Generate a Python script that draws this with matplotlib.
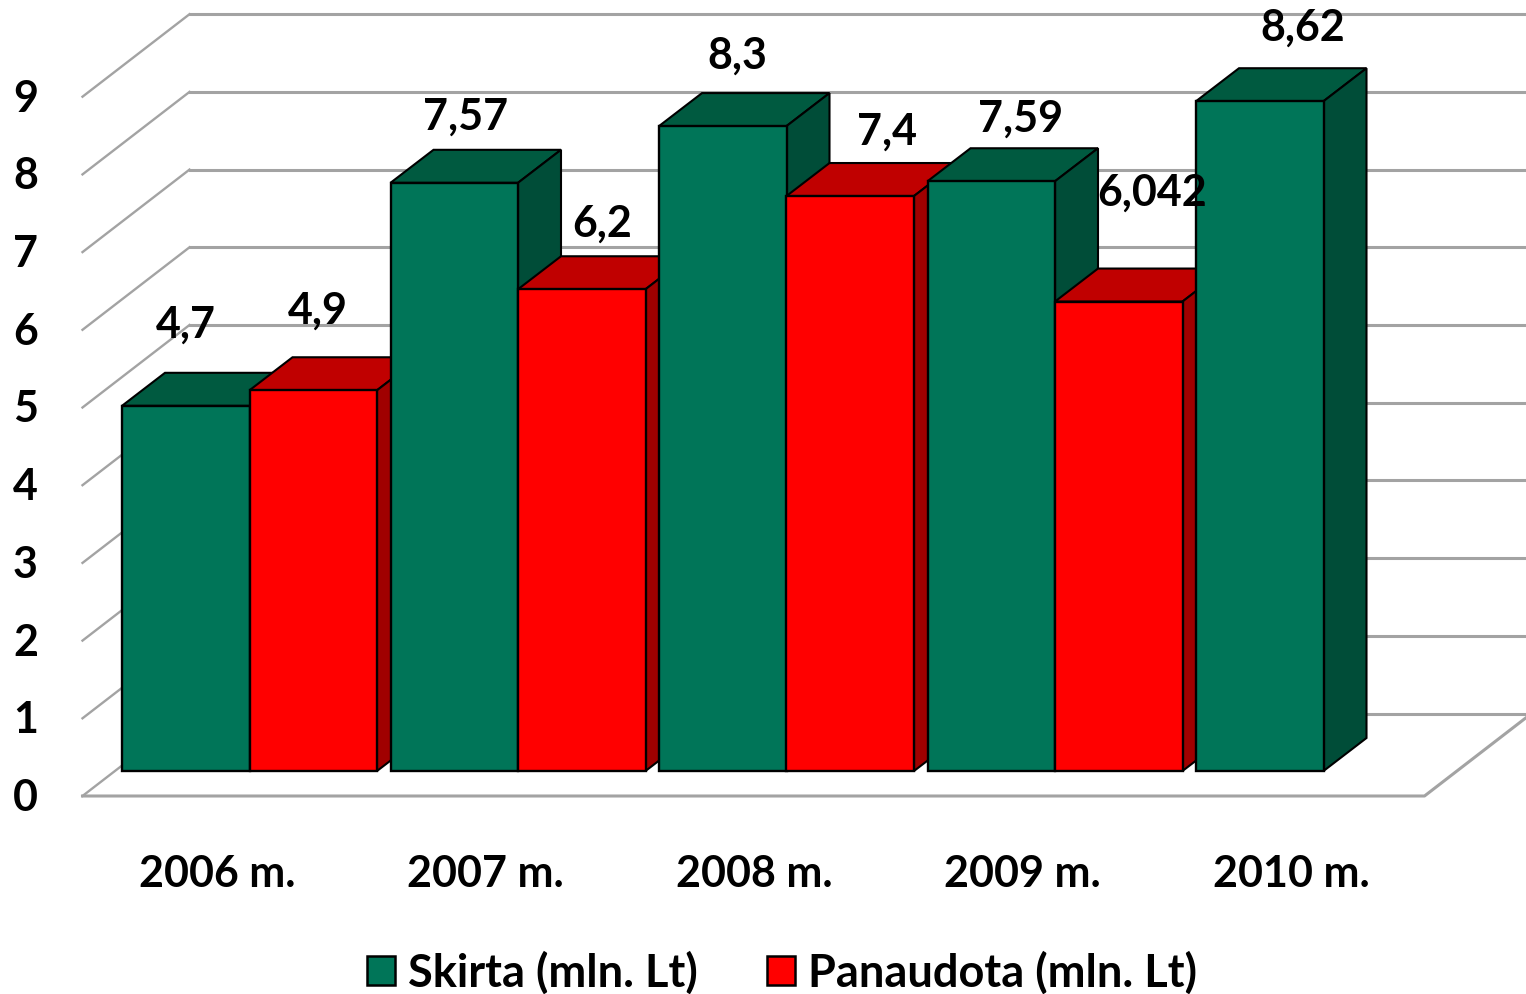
import numpy as np
import matplotlib
matplotlib.use("Agg")
import matplotlib.pyplot as plt
from matplotlib.patches import Patch

years = ["2006 m.", "2007 m.", "2008 m.", "2009 m.", "2010 m."]
skirta = [4.7, 7.57, 8.3, 7.59, 8.62]
panaudota = [4.9, 6.2, 7.4, 6.042, None]
skirta_labels = ["4,7", "7,57", "8,3", "7,59", "8,62"]
panaudota_labels = ["4,9", "6,2", "7,4", "6,042", None]
y_ticks = list(range(10))

PX_X = 268.5  # pixels per category
PX_Y = 77.7   # pixels per value unit
W, H = 1526, 994

# fake 3d: depth of a bar and of the whole floor, in data units
bar_w = 127.5 / PX_X
bar_dx, bar_dy = 43 / PX_X, 33 / PX_Y
floor_dx, floor_dy = 107 / PX_X, 82.5 / PX_Y
front_y = -25 / PX_Y
front_x0, front_x1 = (83 - 250) / PX_X, (1425 - 250) / PX_X

GREEN = ("#007558", "#005A40", "#004D38")
RED = ("#FF0000", "#C00000", "#A00000")
GRID = "#A3A3A3"
FONT = "Lato"
SIZE = 31

fig = plt.figure(figsize=(W / 100, H / 100), dpi=100)
ax = fig.add_axes([0, 0, 1, 1])
ax.set_xlim(-249.5 / PX_X, (W - 249.5) / PX_X)
ax.set_ylim(-(H - 771) / PX_Y, 771 / PX_Y)
ax.axis("off")


def box(x, value, colors):
    # front face is a real bar, top and side are polygons behind it
    left, right = x - bar_w / 2, x + bar_w / 2
    ax.fill([left, right, right + bar_dx, left + bar_dx],
            [value, value, value + bar_dy, value + bar_dy],
            facecolor=colors[1], edgecolor="black", linewidth=1.5)
    ax.fill([right, right + bar_dx, right + bar_dx, right],
            [0, bar_dy, value + bar_dy, value],
            facecolor=colors[2], edgecolor="black", linewidth=1.5)
    ax.bar(x, value, width=bar_w, color=colors[0], edgecolor="black", linewidth=1.7)


# walls and floor stay behind the bars
for v in y_ticks:
    back = v + front_y + floor_dy
    ax.plot([front_x0, front_x0 + floor_dx], [v + front_y, back], color=GRID, lw=1.7, zorder=0)
    ax.plot([front_x0 + floor_dx, ax.get_xlim()[1]], [back, back], color=GRID, lw=2.2, zorder=0)
ax.plot([front_x0, front_x1, front_x1 + floor_dx],
        [front_y, front_y, front_y + floor_dy], color=GRID, lw=2.2, zorder=0)

for i in range(len(years)):
    box(i - bar_w / 2, skirta[i], GREEN)
    if panaudota[i] is not None:
        box(i + bar_w / 2, panaudota[i], RED)

# labels were moved by hand in the original, so each has its own offset (px)
skirta_offsets = [(0, 81), (11, 66), (15, 70), (29, 63), (43, 74)]
panaudota_offsets = [(5, 80), (20, 66), (37, 64), (33, 109), None]
for i in range(len(years)):
    ax.annotate(skirta_labels[i], (i - bar_w / 2, skirta[i]), xytext=skirta_offsets[i],
                textcoords="offset pixels", ha="center", va="center",
                family=FONT, weight="bold", fontsize=SIZE, zorder=10)
    if panaudota[i] is not None:
        ax.annotate(panaudota_labels[i], (i + bar_w / 2, panaudota[i]), xytext=panaudota_offsets[i],
                    textcoords="offset pixels", ha="center", va="center",
                    family=FONT, weight="bold", fontsize=SIZE, zorder=10)

for v in y_ticks:
    ax.text(front_x0 - 57 / PX_X, v + front_y - 2 / PX_Y, str(v), ha="center", va="center",
            family=FONT, weight="bold", fontsize=SIZE)
for i, year in enumerate(years):
    ax.text(i - 32.5 / PX_X, -103 / PX_Y, year, ha="center", va="center",
            family=FONT, weight="bold", fontsize=SIZE)

handles = [Patch(facecolor=GREEN[0], edgecolor="black", linewidth=1.8, label="Skirta (mln. Lt)"),
           Patch(facecolor=RED[0], edgecolor="black", linewidth=1.8, label="Panaudota (mln. Lt)")]
fig.legend(handles=handles, loc="center", bbox_to_anchor=(782 / W, 1 - 973 / H), ncol=2,
           frameon=False, prop={"family": FONT, "weight": "bold", "size": 32.5},
           handlelength=0.62, handleheight=0.62, handletextpad=0.27, columnspacing=1.55,
           borderpad=0, borderaxespad=0)

fig.savefig("out.png", dpi=100)
